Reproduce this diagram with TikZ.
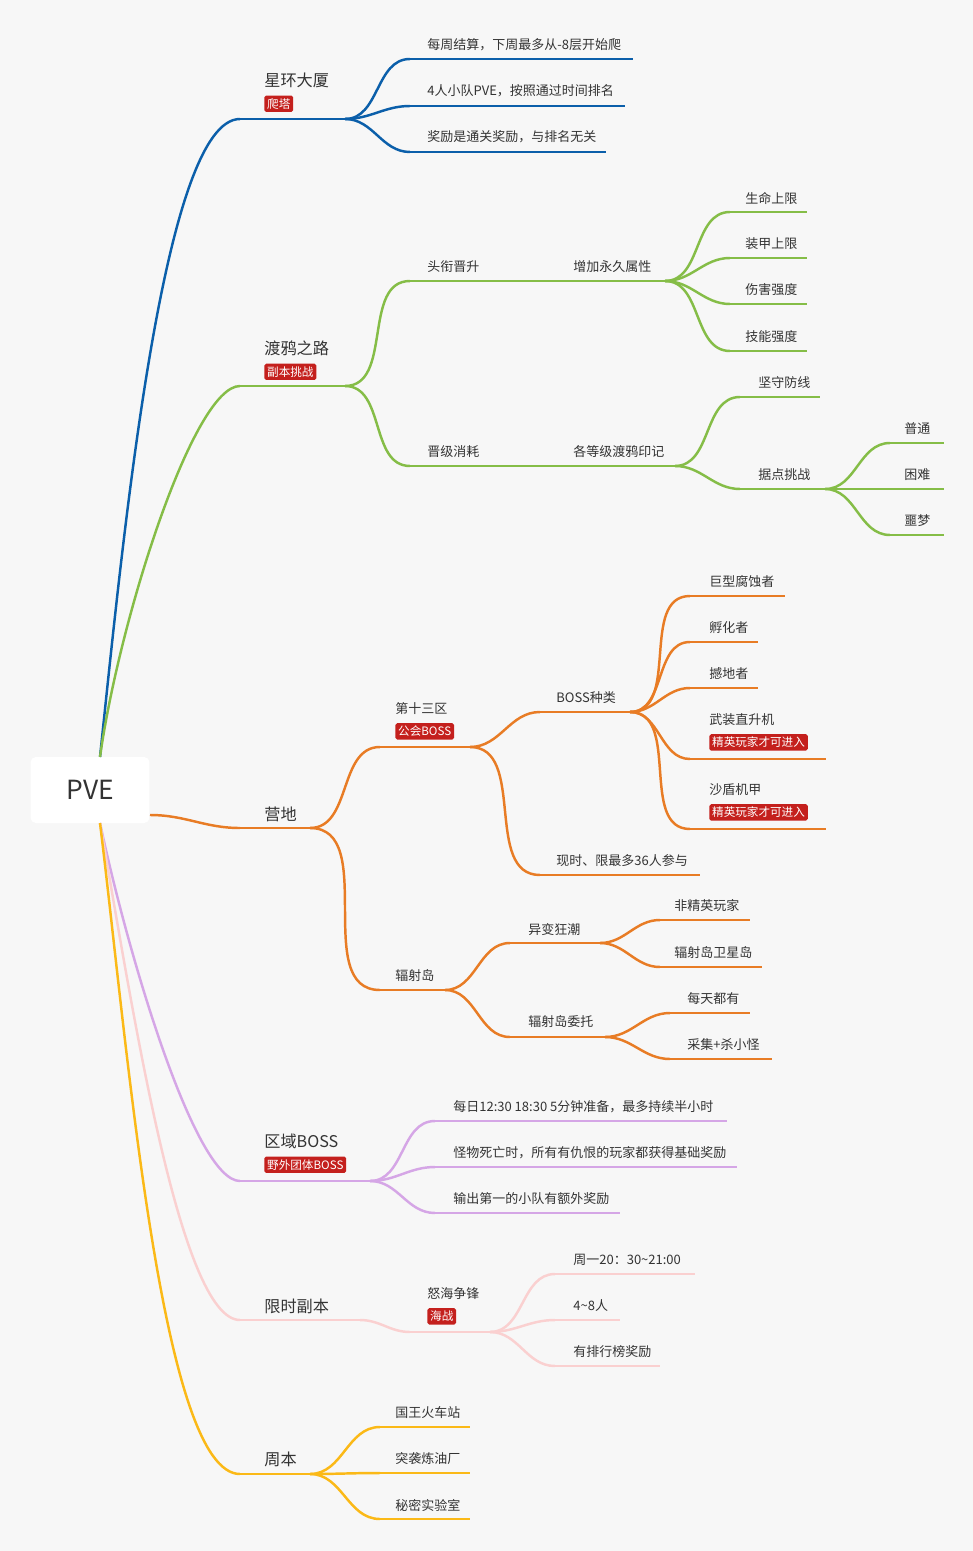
\documentclass[tikz,border=0pt]{standalone}
\usepackage{fontspec}
\setmainfont{Noto Sans CJK SC}
\usetikzlibrary{positioning}
\definecolor{bgcol}{HTML}{F7F7F7}
\definecolor{cblue}{HTML}{0B5FAA}
\definecolor{cgreen}{HTML}{85BD47}
\definecolor{corange}{HTML}{E87C25}
\definecolor{cpurple}{HTML}{D5A6E6}
\definecolor{cpink}{HTML}{FAD0D0}
\definecolor{cyellow}{HTML}{FBB917}
\definecolor{tagred}{HTML}{C4201D}
\colorlet{cur}{cblue}
\newcommand\sm{\fontsize{7.4}{9}\selectfont}
\newcommand\bg{\fontsize{9.2}{11}\selectfont}
% name, xs, xe, line y, text x, text y, text, font
\newcommand\topic[8]{%
  \coordinate (#1-s) at (#2,#4);
  \coordinate (#1-e) at (#3,#4);
  \draw[branch] (#1-s) -- (#1-e);
  \node[anchor=west, inner sep=0pt, text=black!80] (#1) at (#5,#6) {#8#7};}
\newcommand\tagbox[2]{\node[tagbox, anchor=north west] at ([yshift=-0.15cm]#1.south west) {#2};}
\newcommand\link[2]{\draw[branch] (#1-e) to[out=0,in=180] (#2-s);}
\newcommand\rootlink[3]{\draw[branch] (#1) to[out=#3,in=180,out looseness=0.9,in looseness=0.3] (#2-s);}
\begin{document}
\begin{tikzpicture}[x=0.02cm,y=-0.02cm,
  branch/.style={draw=cur, line width=1.4pt},
  tagbox/.style={fill=tagred, text=white, rounded corners=1pt, inner sep=1.6pt,
    font=\fontsize{6.6}{8}\selectfont}]
\useasboundingbox (0,0) rectangle (973,1551);
\fill[bgcol] (0,0) rectangle (973,1551);
\node[fill=white, rounded corners=3pt, minimum width=2.38cm, minimum height=1.32cm,
  font=\fontsize{15}{18}\selectfont, text=black!80] (root) at (90,790) {PVE};
\coordinate (rt) at (100,757);
\coordinate (rb) at (100,823);
\coordinate (rr) at (150,815);

% 星环大厦
\colorlet{cur}{cblue}
\topic{xh}{240}{345}{119}{264}{80}{星环大厦}{\bg}\tagbox{xh}{爬塔}
\rootlink{rt}{xh}{84}
\topic{xh1}{410}{633}{59}{427}{45}{每周结算，下周最多从-8层开始爬}{\sm}
\topic{xh2}{410}{625}{106}{427}{91}{4人小队PVE，按照通过时间排名}{\sm}
\topic{xh3}{410}{606}{152}{427}{137}{奖励是通关奖励，与排名无关}{\sm}
\foreach \c in {xh1,xh2,xh3} {\link{xh}{\c}}

% 渡鸦之路
\colorlet{cur}{cgreen}
\topic{dy}{240}{345}{386}{264}{348}{渡鸦之路}{\bg}\tagbox{dy}{副本挑战}
\rootlink{rt}{dy}{82}
\topic{tx}{410}{560}{281}{427}{267}{头衔晋升}{\sm}
\topic{zj}{560}{665}{281}{573}{267}{增加永久属性}{\sm}
\topic{zj1}{730}{807}{212}{745}{198}{生命上限}{\sm}
\topic{zj2}{730}{807}{258}{745}{244}{装甲上限}{\sm}
\topic{zj3}{730}{807}{304}{745}{290}{伤害强度}{\sm}
\topic{zj4}{730}{807}{351}{745}{337}{技能强度}{\sm}
\topic{jj}{410}{560}{466}{427}{452}{晋级消耗}{\sm}
\topic{yj}{560}{675}{466}{573}{452}{各等级渡鸦印记}{\sm}
\topic{js}{740}{820}{397}{758}{383}{坚守防线}{\sm}
\topic{jd}{740}{825}{489}{758}{475}{据点挑战}{\sm}
\topic{pt}{890}{944}{443}{904}{429}{普通}{\sm}
\topic{kn}{890}{944}{489}{904}{475}{困难}{\sm}
\topic{em}{890}{944}{535}{904}{521}{噩梦}{\sm}
\link{dy}{tx}\link{dy}{jj}
\foreach \c in {zj1,zj2,zj3,zj4} {\link{zj}{\c}}
\link{yj}{js}\link{yj}{jd}
\foreach \c in {pt,kn,em} {\link{jd}{\c}}

% 营地
\colorlet{cur}{corange}
\topic{yd}{240}{310}{828}{264}{814}{营地}{\bg}
\draw[branch] (rr) to[out=0,in=180] (yd-s);
\topic{ss}{380}{470}{747}{395}{709}{第十三区}{\sm}\tagbox{ss}{公会BOSS}
\topic{bz}{540}{630}{712}{556}{698}{BOSS种类}{\sm}
\topic{b1}{690}{785}{596}{709}{582}{巨型腐蚀者}{\sm}
\topic{b2}{690}{758}{642}{709}{628}{孵化者}{\sm}
\topic{b3}{690}{758}{688}{709}{674}{撼地者}{\sm}
\topic{b4}{690}{826}{759}{709}{720}{武装直升机}{\sm}\tagbox{b4}{精英玩家才可进入}
\topic{b5}{690}{826}{829}{709}{790}{沙盾机甲}{\sm}\tagbox{b5}{精英玩家才可进入}
\topic{xs}{540}{700}{875}{556}{861}{现时、限最多36人参与}{\sm}
\topic{fs}{380}{445}{990}{395}{976}{辐射岛}{\sm}
\topic{yb}{510}{600}{943}{528}{930}{异变狂潮}{\sm}
\topic{y1}{660}{750}{920}{674}{906}{非精英玩家}{\sm}
\topic{y2}{660}{762}{967}{674}{953}{辐射岛卫星岛}{\sm}
\topic{wt}{510}{605}{1037}{528}{1022}{辐射岛委托}{\sm}
\topic{w1}{670}{750}{1013}{687}{999}{每天都有}{\sm}
\topic{w2}{670}{772}{1059}{687}{1045}{采集+杀小怪}{\sm}
\link{yd}{ss}\link{yd}{fs}\link{ss}{bz}\link{ss}{xs}
\foreach \c in {b1,b2,b3,b4,b5} {\link{bz}{\c}}
\link{fs}{yb}\link{fs}{wt}\link{yb}{y1}\link{yb}{y2}\link{wt}{w1}\link{wt}{w2}

% 区域BOSS
\colorlet{cur}{cpurple}
\topic{qy}{240}{370}{1181}{264}{1141}{区域BOSS}{\bg}\tagbox{qy}{野外团体BOSS}
\rootlink{rb}{qy}{-78}
\topic{q1}{435}{727}{1121}{453}{1107}{每日12:30 18:30 5分钟准备，最多持续半小时}{\sm}
\topic{q2}{435}{737}{1167}{453}{1153}{怪物死亡时，所有有仇恨的玩家都获得基础奖励}{\sm}
\topic{q3}{435}{620}{1213}{453}{1199}{输出第一的小队有额外奖励}{\sm}
\foreach \c in {q1,q2,q3} {\link{qy}{\c}}

% 限时副本
\colorlet{cur}{cpink}
\topic{xf}{240}{360}{1320}{264}{1306}{限时副本}{\bg}
\rootlink{rb}{xf}{-80}
\topic{nh}{410}{490}{1332}{427}{1294}{怒海争锋}{\sm}\tagbox{nh}{海战}
\topic{n1}{555}{695}{1274}{573}{1260}{周一20：30\textasciitilde21:00}{\sm}
\topic{n2}{555}{620}{1320}{573}{1306}{4\textasciitilde8人}{\sm}
\topic{n3}{555}{660}{1366}{573}{1352}{有排行榜奖励}{\sm}
\link{xf}{nh}
\foreach \c in {n1,n2,n3} {\link{nh}{\c}}

% 周本
\colorlet{cur}{cyellow}
\topic{zb}{240}{310}{1474}{264}{1459}{周本}{\bg}
\rootlink{rb}{zb}{-83}
\topic{z1}{380}{470}{1427}{395}{1413}{国王火车站}{\sm}
\topic{z2}{380}{470}{1473}{395}{1459}{突袭炼油厂}{\sm}
\topic{z3}{380}{470}{1519}{395}{1505}{秘密实验室}{\sm}
\foreach \c in {z1,z2,z3} {\link{zb}{\c}}
\end{tikzpicture}
\end{document}
